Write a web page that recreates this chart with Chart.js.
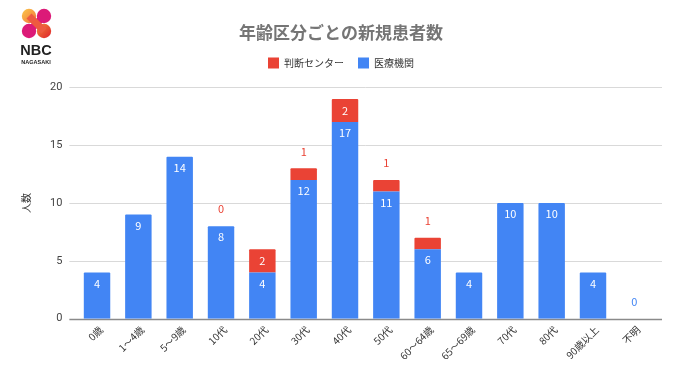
<!DOCTYPE html>
<html lang="ja">
<head>
<meta charset="utf-8">
<title>年齢区分ごとの新規患者数</title>
<script src="https://cdn.jsdelivr.net/npm/chart.js@4"></script>
<style>
  html, body { margin: 0; padding: 0; background: #fff; }
  #wrap { position: relative; width: 680px; height: 382px; overflow: hidden; }
  #logo { position: absolute; left: 18px; top: 7px; width: 36px; height: 64px; text-align: center; color: #222; font-family: "Liberation Sans", sans-serif; }
  #logo svg { display: block; margin: 0 auto; }
  #logo .nbc { font-size: 14.5px; line-height: 15px; margin-top: 4px; font-weight: 700; }
  #logo .sub { font-size: 5.5px; line-height: 7px; font-weight: 700; margin-top: 1px; }
</style>
</head>
<body>
<div id="wrap">
  <canvas id="chart" width="680" height="382"></canvas>
  <div id="logo">
    <svg width="34" height="32" viewBox="0 0 34 32">
      <defs>
        <linearGradient id="g1" x1="0" y1="0" x2="1" y2="1"><stop offset="0" stop-color="#fbc94a"/><stop offset="1" stop-color="#f2703c"/></linearGradient>
        <linearGradient id="g2" x1="0" y1="0" x2="1" y2="1"><stop offset="0" stop-color="#f08a3a"/><stop offset="1" stop-color="#e0202c"/></linearGradient>
      </defs>
      <path d="M25 9 L10 24" stroke="#dc1a78" stroke-width="7"/>
      <circle cx="10" cy="9" r="7.2" fill="url(#g1)"/>
      <circle cx="25" cy="9" r="7.2" fill="#dc1a78"/>
      <circle cx="10" cy="24" r="7.2" fill="#dc1a78"/>
      <circle cx="25" cy="24" r="7.2" fill="url(#g2)"/>
      <path d="M10 9 L25 24" stroke="#ee5a40" stroke-width="7"/>
    </svg>
    <div class="nbc">NBC</div>
    <div class="sub">NAGASAKI</div>
  </div>
</div>
<script>
const categories = ['0歳', '1〜4歳', '5〜9歳', '10代', '20代', '30代', '40代', '50代', '60〜64歳', '65〜69歳', '70代', '80代', '90歳以上', '不明'];
const iryoKikan = [4, 9, 14, 8, 4, 12, 17, 11, 6, 4, 10, 10, 4, 0];
const handanCenter = [null, null, null, 0, 2, 1, 2, 1, 1, null, null, null, null, null];
const yTicks = [0, 5, 10, 15, 20];

const BLUE = '#4285f4';
const RED = '#ea4335';
const FONT = '"Noto Sans CJK JP", "Noto Sans", sans-serif';

// extra room between the legend and the plot
const legendGap = {
  id: 'legendGap',
  beforeInit(chart) {
    const fit = chart.legend.fit;
    chart.legend.fit = function () {
      fit.call(this);
      this.height += 9;
    };
  }
};

// gridlines run a little past the plot area on both sides
const gridPlugin = {
  id: 'wideGrid',
  beforeDatasetsDraw(chart) {
    const { ctx, chartArea, scales } = chart;
    ctx.save();
    yTicks.forEach(function (v) {
      const y = Math.round(scales.y.getPixelForValue(v)) + 0.5;
      ctx.strokeStyle = v === 0 ? '#8a8a8a' : '#d9d9d9';
      ctx.lineWidth = v === 0 ? 1.5 : 1;
      ctx.beginPath();
      ctx.moveTo(chartArea.left - 7, y);
      ctx.lineTo(chartArea.right + 7, y);
      ctx.stroke();
    });
    ctx.restore();
  }
};

// value labels: inside the bar when it fits, otherwise above in the series colour
const labelPlugin = {
  id: 'barLabels',
  afterDatasetsDraw(chart) {
    const { ctx } = chart;
    ctx.save();
    ctx.font = '11px ' + FONT;
    ctx.textAlign = 'center';
    ctx.textBaseline = 'middle';
    chart.data.datasets.forEach(function (ds, i) {
      chart.getDatasetMeta(i).data.forEach(function (bar, j) {
        const v = ds.data[j];
        if (v === null) return;
        const h = Math.abs(bar.base - bar.y);
        if (h < 15) {
          ctx.fillStyle = ds.backgroundColor;
          ctx.fillText(v, bar.x, bar.y - 17);
        } else {
          ctx.fillStyle = '#fff';
          ctx.fillText(v, bar.x, i === 1 ? (bar.y + bar.base) / 2 : bar.y + 11);
        }
      });
    });
    ctx.restore();
  }
};

new Chart(document.getElementById('chart').getContext('2d'), {
  type: 'bar',
  data: {
    labels: categories,
    datasets: [
      { label: '医療機関', data: iryoKikan, backgroundColor: BLUE, stack: 's', barPercentage: 0.64, categoryPercentage: 1, borderRadius: 1 },
      { label: '判断センター', data: handanCenter, backgroundColor: RED, stack: 's', barPercentage: 0.64, categoryPercentage: 1, borderRadius: 1 }
    ]
  },
  options: {
    responsive: false,
    animation: false,
    layout: { padding: { left: 4, right: 2, top: 22, bottom: 15 } },
    plugins: {
      title: {
        display: true,
        text: '年齢区分ごとの新規患者数',
        color: '#757575',
        font: { family: FONT, size: 17, weight: 'bold' },
        padding: { top: 0, bottom: 1 }
      },
      legend: {
        display: true,
        reverse: true,
        labels: {
          boxWidth: 11,
          boxHeight: 11,
          padding: 14,
          color: '#333',
          font: { family: FONT, size: 10 }
        }
      },
      tooltip: { enabled: false }
    },
    scales: {
      x: {
        stacked: true,
        grid: { display: false, drawTicks: false },
        border: { display: false },
        ticks: { color: '#333', font: { family: FONT, size: 10 }, maxRotation: 45, minRotation: 45, autoSkip: false, padding: 5, labelOffset: 4 }
      },
      y: {
        stacked: true,
        min: 0,
        max: 20,
        grid: { display: false },
        border: { display: false },
        title: { display: true, text: '人数', color: '#333', font: { family: FONT, size: 10 }, padding: { top: 16, bottom: 12 } },
        afterBuildTicks(axis) { axis.ticks = yTicks.map(function (v) { return { value: v }; }); },
        ticks: { color: '#444', font: { family: 'Roboto, sans-serif', size: 11 }, padding: 6 }
      },
      // empty axis, only keeps the title and legend centred where the plot is not
      spacer: {
        axis: 'y',
        position: 'right',
        grid: { display: false },
        border: { display: false },
        ticks: { display: false },
        afterFit(axis) { axis.width = 23; }
      }
    }
  },
  plugins: [legendGap, gridPlugin, labelPlugin]
});
</script>
</body>
</html>
